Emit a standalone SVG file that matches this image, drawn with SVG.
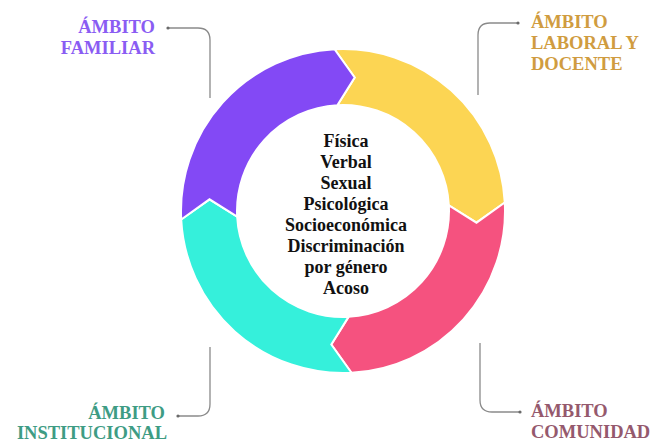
<svg xmlns="http://www.w3.org/2000/svg" width="657" height="444" viewBox="0 0 657 444">
<style>
.seg{stroke:#ffffff;stroke-width:2;stroke-linejoin:miter}
.lbl{font-family:"Liberation Serif","Times New Roman",serif;font-weight:bold;font-size:18.5px}
.ctr{font-family:"Liberation Serif","Times New Roman",serif;font-weight:bold;font-size:18px;fill:#111111;text-anchor:middle}
.con{fill:none;stroke:#8a8a8a;stroke-width:1.3}
</style>
<defs>
<marker id="dot" viewBox="0 0 4 4" refX="2" refY="2" markerWidth="4" markerHeight="4" markerUnits="userSpaceOnUse">
<circle cx="2" cy="2" r="1.6" fill="#6a6a6a"/>
</marker>
</defs>
<rect width="657" height="444" fill="#ffffff"/>
<g id="ring">
<path id="seg-yellow" class="seg" fill="#FCD553" d="M 334.52 49.22 A 162 162 0 0 1 504.78 202.52 L 476.49 222.68 L 448.85 205.45 A 106 106 0 0 0 337.45 105.15 L 354.68 77.51 Z"/>
<path id="seg-pink" class="seg" fill="#F5527F" d="M 504.78 202.52 A 162 162 0 0 1 351.48 372.78 L 331.32 344.49 L 348.55 316.85 A 106 106 0 0 0 448.85 205.45 L 476.49 222.68 Z"/>
<path id="seg-cyan" class="seg" fill="#35F0DB" d="M 351.48 372.78 A 162 162 0 0 1 181.22 219.48 L 209.51 199.32 L 237.15 216.55 A 106 106 0 0 0 348.55 316.85 L 331.32 344.49 Z"/>
<path id="seg-purple" class="seg" fill="#8349F5" d="M 181.22 219.48 A 162 162 0 0 1 334.52 49.22 L 354.68 77.51 L 337.45 105.15 A 106 106 0 0 0 237.15 216.55 L 209.51 199.32 Z"/>
</g>
<g id="center-text">
<text class="ctr" x="346" y="147">Física</text>
<text class="ctr" x="346" y="168">Verbal</text>
<text class="ctr" x="346" y="189">Sexual</text>
<text class="ctr" x="346" y="210">Psicológica</text>
<text class="ctr" x="346" y="231">Socioeconómica</text>
<text class="ctr" x="346" y="252">Discriminación</text>
<text class="ctr" x="346" y="273">por género</text>
<text class="ctr" x="346" y="294">Acoso</text>
</g>
<g id="connectors">
<path class="con" marker-start="url(#dot)" d="M 168 28 H 198 Q 210 28 210 40 V 98"/>
<path class="con" marker-start="url(#dot)" d="M 518 23 H 490 Q 478 23 478 35 V 95"/>
<path class="con" marker-start="url(#dot)" d="M 178 416 H 198 Q 210 416 210 404 V 347"/>
<path class="con" marker-start="url(#dot)" d="M 520 412 H 492 Q 480 412 480 400 V 343"/>
</g>
<g id="label-familiar">
<text class="lbl" fill="#8A5CF3" text-anchor="end" x="155" y="33">ÁMBITO</text>
<text class="lbl" fill="#8A5CF3" text-anchor="end" x="155" y="54">FAMILIAR</text>
</g>
<g id="label-laboral">
<text class="lbl" fill="#D09C40" x="531" y="28">ÁMBITO</text>
<text class="lbl" fill="#D09C40" x="531" y="49">LABORAL Y</text>
<text class="lbl" fill="#D09C40" x="531" y="70">DOCENTE</text>
</g>
<g id="label-institucional">
<text class="lbl" fill="#3E9C84" text-anchor="end" x="165" y="419">ÁMBITO</text>
<text class="lbl" fill="#3E9C84" text-anchor="end" x="167" y="439">INSTITUCIONAL</text>
</g>
<g id="label-comunidad">
<text class="lbl" fill="#95596D" x="531" y="417">ÁMBITO</text>
<text class="lbl" fill="#95596D" x="531" y="438">COMUNIDAD</text>
</g>
</svg>
